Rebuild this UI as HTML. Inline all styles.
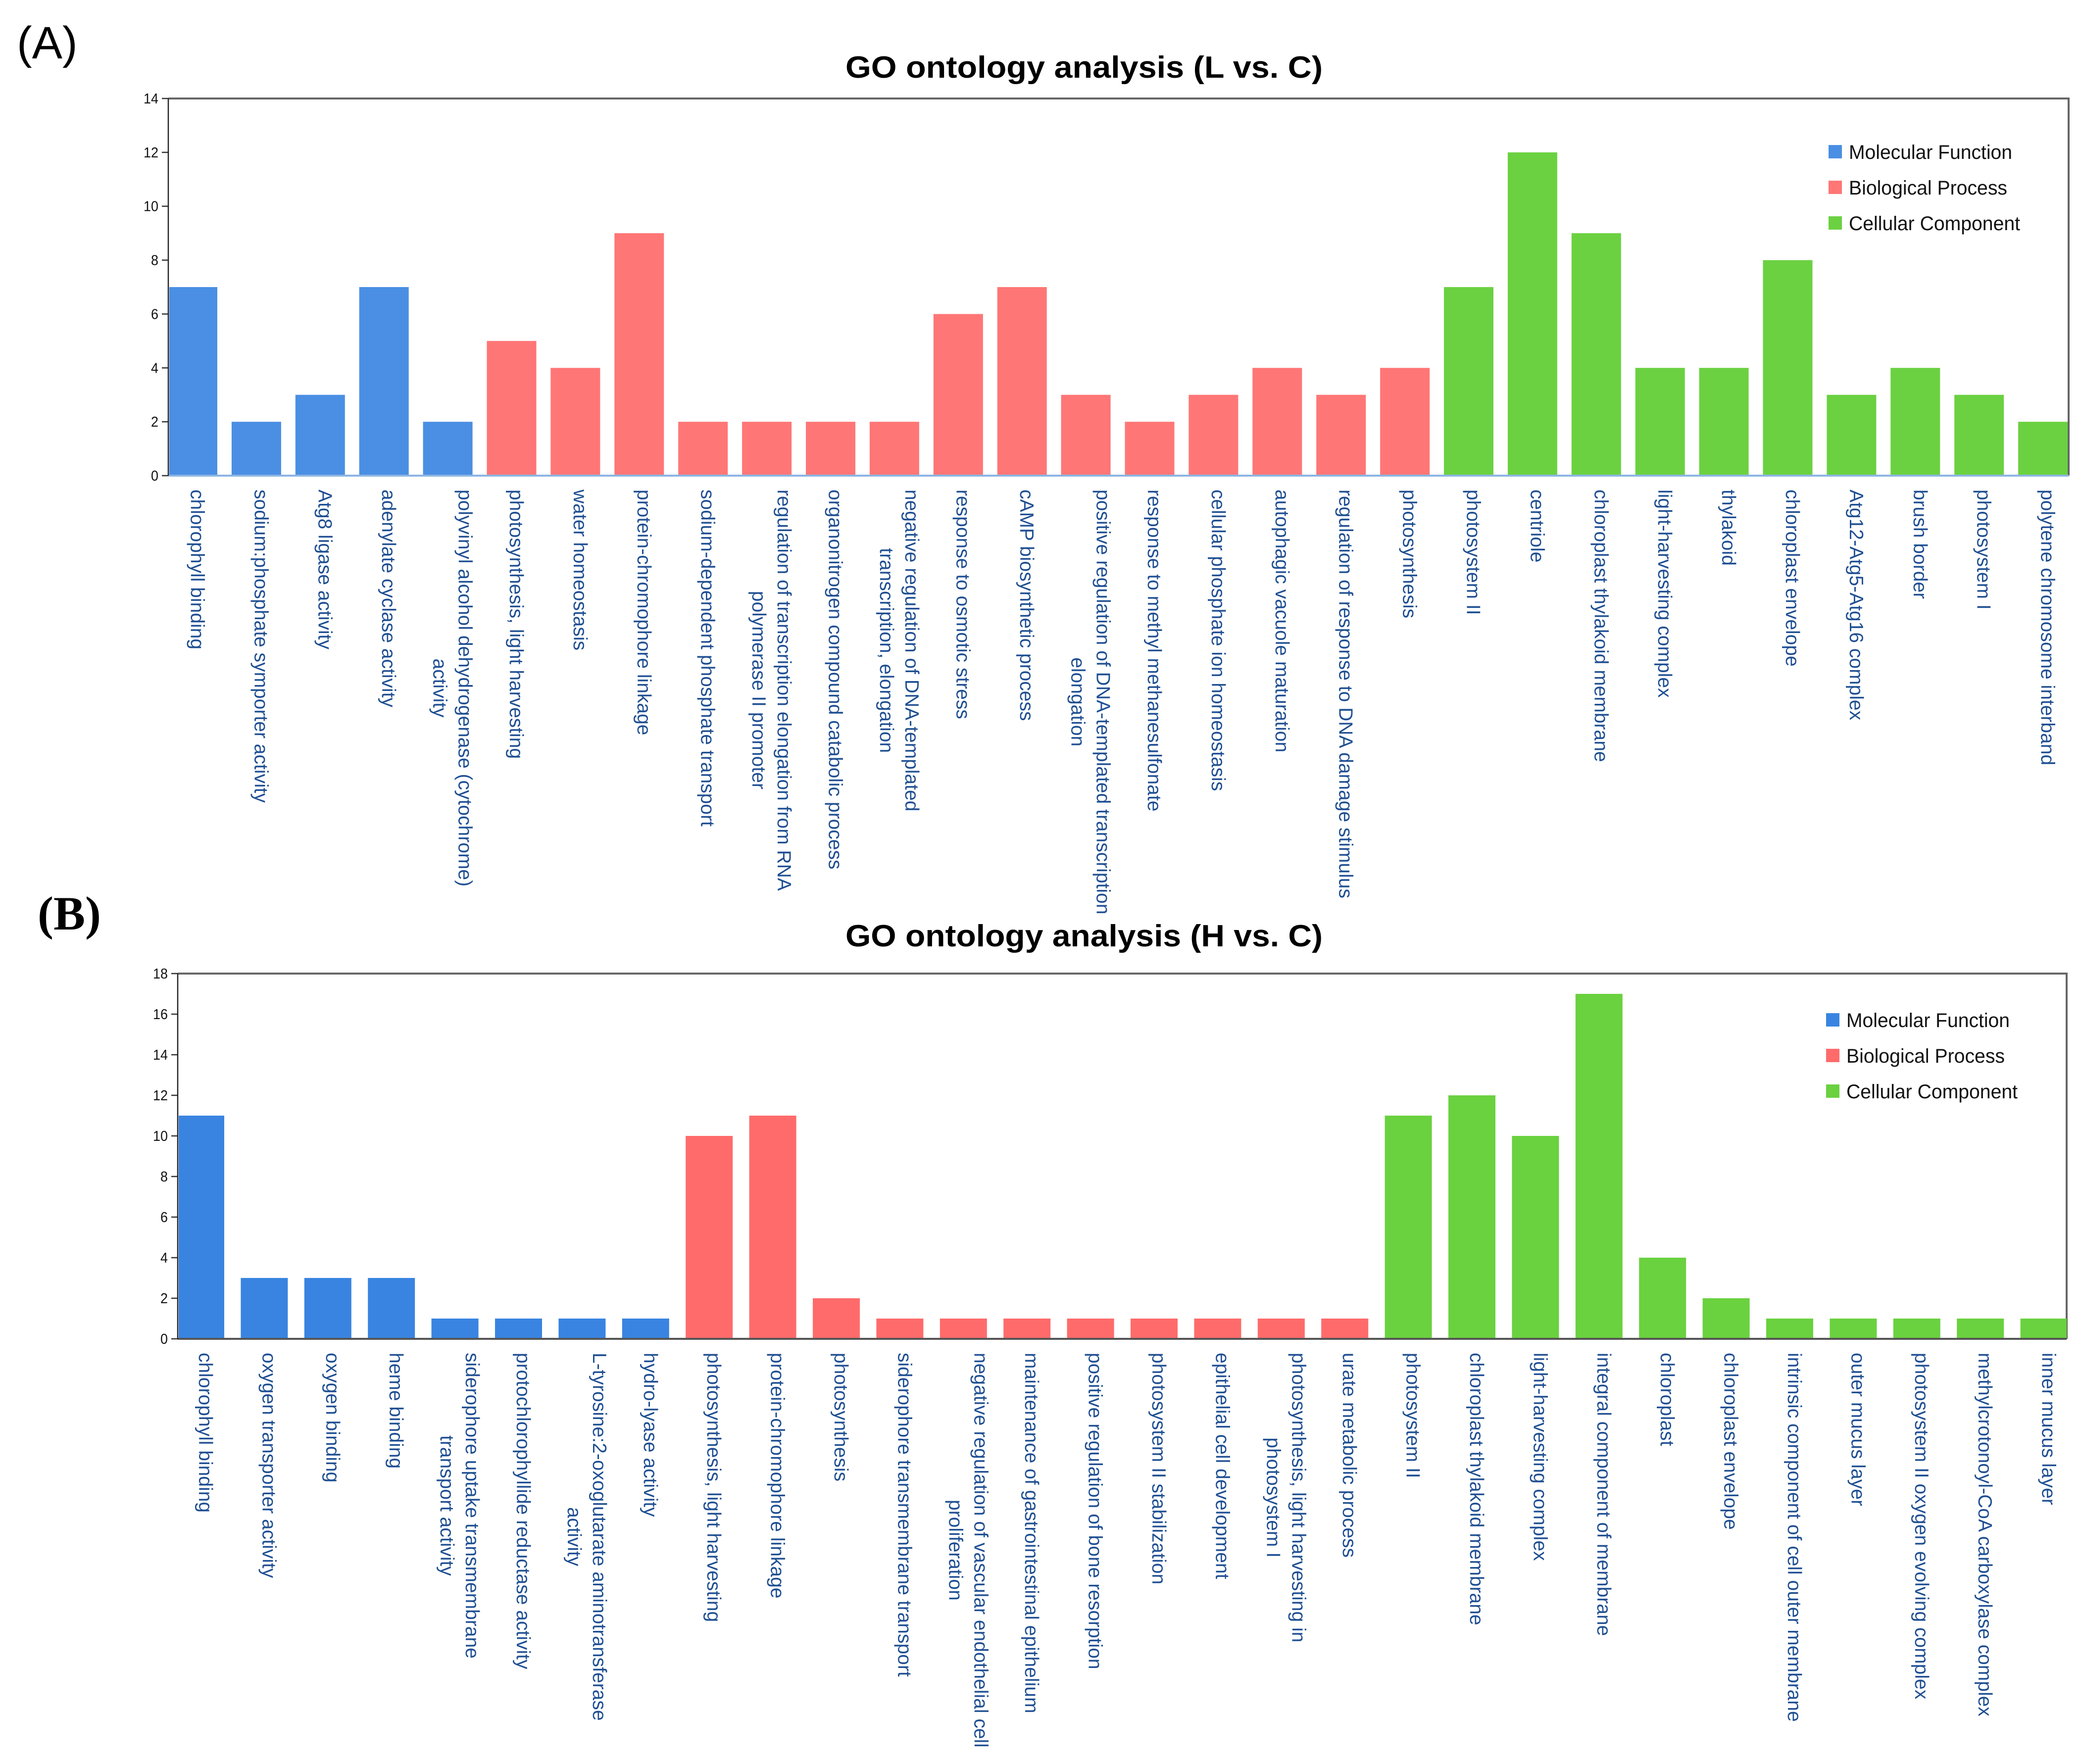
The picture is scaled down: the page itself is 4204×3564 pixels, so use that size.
<!DOCTYPE html>
<html><head><meta charset="utf-8"><style>
html,body{margin:0;padding:0;background:#fff;}
svg{display:block;font-family:"Liberation Sans",Arial,sans-serif;}
</style></head><body>
<svg id="svg" width="4204" height="3564" viewBox="0 0 4204 3564" xmlns="http://www.w3.org/2000/svg">
<rect width="4204" height="3564" fill="#fff"/>
<text x="34" y="118" font-size="92" fill="#000">(A)</text>
<text x="76" y="1878" font-size="96" font-weight="bold" font-family="Liberation Serif,serif" fill="#000">(B)</text>
<g id="chartA"></g>
<g id="chartB"></g>
</svg>
<script>
const NS='http://www.w3.org/2000/svg';
// ---- Chart A data ----
const catsA=["chlorophyll binding","sodium:phosphate symporter activity","Atg8 ligase activity","adenylate cyclase activity","polyvinyl alcohol dehydrogenase (cytochrome)|activity","photosynthesis,  light harvesting","water homeostasis","protein-chromophore linkage","sodium-dependent phosphate transport","regulation of transcription elongation from RNA|polymerase II promoter","organonitrogen compound catabolic process","negative regulation of DNA-templated|transcription, elongation","response to osmotic stress","cAMP biosynthetic process","positive regulation of DNA-templated transcription|elongation","response to methyl methanesulfonate","cellular phosphate ion homeostasis","autophagic vacuole maturation","regulation of response to DNA damage stimulus","photosynthesis","photosystem II","centriole","chloroplast thylakoid membrane","light-harvesting complex","thylakoid","chloroplast envelope","Atg12-Atg5-Atg16 complex","brush border","photosystem I","polytene chromosome interband"];
const valsA=[7,2,3,7,2,5,4,9,2,2,2,2,6,7,3,2,3,4,3,4,7,12,9,4,4,8,3,4,3,2];
const groupsA=["MF","MF","MF","MF","MF","BP","BP","BP","BP","BP","BP","BP","BP","BP","BP","BP","BP","BP","BP","BP","CC","CC","CC","CC","CC","CC","CC","CC","CC","CC"];
const ticksA=[0,2,4,6,8,10,12,14];
const titleA="GO ontology analysis (L vs. C)";
// ---- Chart B data ----
const catsB=["chlorophyll binding","oxygen transporter activity","oxygen binding","heme binding","siderophore uptake transmembrane|transport activity","protochlorophyllide reductase activity","L-tyrosine:2-oxoglutarate aminotransferase|activity","hydro-lyase activity","photosynthesis, light harvesting","protein-chromophore linkage","photosynthesis","siderophore transmembrane transport","negative regulation of vascular endothelial cell|proliferation","maintenance of gastrointestinal epithelium","positive regulation of bone resorption","photosystem II stabilization","epithelial cell development","photosynthesis, light harvesting in|photosystem I","urate metabolic process","photosystem II","chloroplast thylakoid membrane","light-harvesting complex","integral component of membrane","chloroplast","chloroplast envelope","intrinsic component of cell outer membrane","outer mucus layer","photosystem II oxygen evolving complex","methylcrotonoyl-CoA carboxylase complex","inner mucus layer"];
const valsB=[11,3,3,3,1,1,1,1,10,11,2,1,1,1,1,1,1,1,1,11,12,10,17,4,2,1,1,1,1,1];
const groupsB=["MF","MF","MF","MF","MF","MF","MF","MF","BP","BP","BP","BP","BP","BP","BP","BP","BP","BP","BP","CC","CC","CC","CC","CC","CC","CC","CC","CC","CC","CC"];
const ticksB=[0,2,4,6,8,10,12,14,16,18];
const titleB="GO ontology analysis (H vs. C)";
const legendNames=["Molecular Function","Biological Process","Cellular Component"];

function mk(tag,attrs,parent){const e=document.createElementNS(NS,tag);for(const k in attrs)e.setAttribute(k,attrs[k]);parent.appendChild(e);return e;}

function draw(g,cfg){
  const {cats,vals,groups,ticks,title,L,R,T,B,max,barL0,pitch,barW,colors,axisCol,titleX,titleY,legX,legY,labelY}=cfg;
  const y=v=>B-(v/max)*(B-T);
  const x=i=>barL0+i*pitch;
  const t=mk('text',{x:titleX,y:titleY,'text-anchor':'middle','font-size':62,'font-weight':'bold',fill:'#000',textLength:964,lengthAdjust:'spacingAndGlyphs'},g);
  t.textContent=title;
  
  
  const fr=mk('path',{d:`M${L},${T} H${R} V${B}`,fill:'none',stroke:'#666','stroke-width':4},g);
  
  
  ticks.forEach(v=>{
    const tk=mk('line',{x1:L-13,x2:L,y1:y(v),y2:y(v),stroke:'#333','stroke-width':2.5},g);
    
    
    const tl=mk('text',{x:L-20,y:y(v)+10,'text-anchor':'end','font-size':29,fill:'#111',textLength:String(v).length*15,lengthAdjust:'spacingAndGlyphs'},g);
    tl.textContent=v;
    
    
  });
  vals.forEach((v,i)=>{
    let x0=x(i),w=barW;
    if(x0<L+2){w-=(L+2-x0);x0=L+2;}
    if(x0+w>R)w=R-x0;
    const r=mk('rect',{x:x0,y:y(v),width:w,height:B-y(v),fill:colors[groups[i]]},g);
    
    
    const cx=x(i)+barW/2+9;
    const lines=cats[i].split('|');
    const lg=mk('g',{transform:`translate(${cx},${labelY}) rotate(90)`},g);
    
    
    const els=lines.map((s,k)=>{
      const te=mk('text',{x:0,y:(k-(lines.length-1)/2)*51,'dominant-baseline':'central','font-size':39,fill:'#1f4f92'},lg);
      te.textContent=s;return te;
    });
    if(els.length>1){
      const w0=els[0].getComputedTextLength();
      els.forEach(e=>{e.setAttribute('text-anchor','middle');e.setAttribute('x',w0/2);});
    }
  });
  const ax=mk('line',{x1:L,x2:R,y1:B,y2:B,stroke:axisCol,'stroke-width':4},g);
  
  
  const ay=mk('line',{x1:L,x2:L,y1:T,y2:B,stroke:'#222','stroke-width':2.5},g);
  
  
  ["MF","BP","CC"].forEach((k,j)=>{
    const cy=legY+j*72;
    const sq=mk('rect',{x:legX,y:cy-14,width:27,height:27,fill:colors[k]},g);
    
    
    const lt=mk('text',{x:legX+41,y:cy+14,'font-size':40,fill:'#111',textLength:[330,320,346][j],lengthAdjust:'spacingAndGlyphs'},g);
    lt.textContent=legendNames[j];
    
    
  });
}
draw(document.getElementById('chartA'),{cats:catsA,vals:valsA,groups:groupsA,ticks:ticksA,title:titleA,
  L:340,R:4179,T:199,B:961,max:14,barL0:339,pitch:128.9,barW:100,
  colors:{MF:'#4a8fe4',BP:'#ff7676',CC:'#6bd141'},axisCol:'#8cb6e2',titleX:2190,titleY:157,legX:3694,legY:307,labelY:989});
draw(document.getElementById('chartB'),{cats:catsB,vals:valsB,groups:groupsB,ticks:ticksB,title:titleB,
  L:359,R:4175,T:1967,B:2705,max:18,barL0:358,pitch:128.4,barW:95,
  colors:{MF:'#3984e1',BP:'#ff6b6b',CC:'#6ad13f'},axisCol:'#555',titleX:2190,titleY:1912,legX:3689,legY:2061,labelY:2733});
</script>
</body></html>
